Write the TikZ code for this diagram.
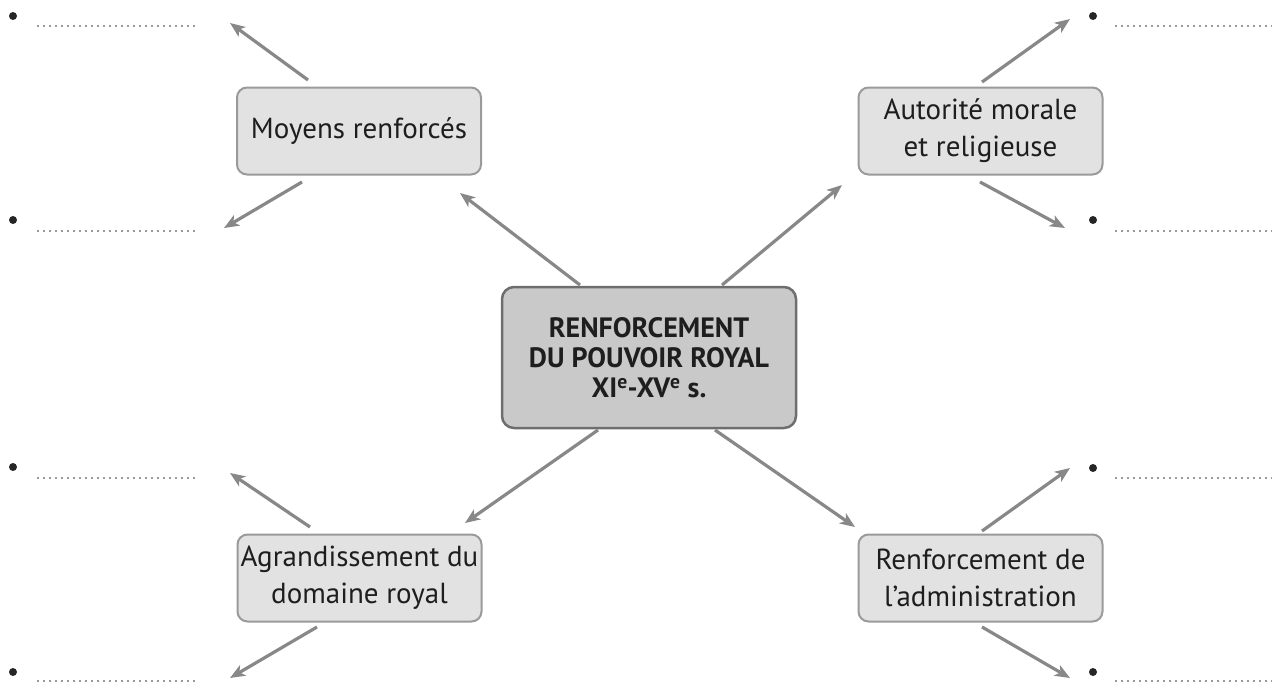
\documentclass[tikz,border=0pt]{standalone}
\usepackage{fontspec}
\setmainfont{PT Sans}
\usetikzlibrary{arrows.meta}
\definecolor{boxfill}{HTML}{E2E2E2}
\definecolor{boxline}{HTML}{9A9A9A}
\definecolor{mainfill}{HTML}{C9C9C9}
\definecolor{mainline}{HTML}{6E6E6E}
\definecolor{arrowgray}{HTML}{888888}
\definecolor{txt}{HTML}{1E1E1E}
\definecolor{dotgray}{HTML}{999999}
\begin{document}
\begin{tikzpicture}[x=1pt,y=-1pt,
  sub/.style={draw=boxline, fill=boxfill, line width=2pt, rounded corners=10pt,
    minimum width=244pt, minimum height=87pt, align=center,
    font=\fontsize{29}{37}\selectfont, text=txt, inner sep=0pt},
  mainbox/.style={draw=mainline, fill=mainfill, line width=2.5pt, rounded corners=12pt,
    minimum width=294pt, minimum height=141pt, align=center,
    font=\bfseries\fontsize{28}{30}\selectfont, text=txt, inner sep=0pt},
  arr/.style={draw=arrowgray, line width=3.2pt, -{Stealth[length=15pt,width=12pt,inset=4pt]}},
  dots/.style={draw=dotgray, line width=2pt, dash pattern=on 2pt off 4pt},
  bul/.style={circle, fill=black!85, inner sep=0pt, minimum size=8pt}]
\useasboundingbox (0,0) rectangle (1276,683);

% boxes
\node[mainbox] (c) at (649,357.5) {RENFORCEMENT\\DU POUVOIR ROYAL\\XI\textsuperscript{e}-XV\textsuperscript{e} s.};
\node[sub] (moy) at (359,131) {Moyens renforcés};
\node[sub] (aut) at (980.5,131) {Autorité morale\\et religieuse};
\node[sub] (agr) at (359.5,578) {Agrandissement du\\domaine royal};
\node[sub] (adm) at (980.5,578) {Renforcement de\\l’administration};

% bullets
\node[bul] (bl1) at (13,16) {};
\node[bul] (bl2) at (13,220) {};
\node[bul] (bl3) at (13,467) {};
\node[bul] (bl4) at (13,672) {};
\node[bul] (br1) at (1093,16) {};
\node[bul] (br2) at (1093,220) {};
\node[bul] (br3) at (1093,468) {};
\node[bul] (br4) at (1093,672) {};

% dotted answer lines
\draw[dots] (37,26) -- (195,26);
\draw[dots] (37,231) -- (195,231);
\draw[dots] (37,478) -- (195,478);
\draw[dots] (37,681) -- (195,681);
\draw[dots] (1115,26) -- (1272,26);
\draw[dots] (1115,231) -- (1272,231);
\draw[dots] (1115,478) -- (1272,478);
\draw[dots] (1115,681) -- (1272,681);

% arrow end coordinates
\coordinate (cm0) at (580,285);  \coordinate (cm1) at (460,193);
\coordinate (ca0) at (722,285);  \coordinate (ca1) at (842,185);
\coordinate (cg0) at (598,430);  \coordinate (cg1) at (465,523);
\coordinate (cd0) at (715,430);  \coordinate (cd1) at (855,527);

\coordinate (m10) at (308,80);   \coordinate (m11) at (230,23);
\coordinate (m20) at (302,182);  \coordinate (m21) at (224,228);
\coordinate (a10) at (982,82);   \coordinate (a11) at (1070,19);
\coordinate (a20) at (980,182);  \coordinate (a21) at (1065,228);
\coordinate (g10) at (310,527);  \coordinate (g11) at (230,473);
\coordinate (g20) at (317,627);  \coordinate (g21) at (230,678);
\coordinate (d10) at (982,531);  \coordinate (d11) at (1070,468);
\coordinate (d20) at (982,627);  \coordinate (d21) at (1070,678);

\draw[arr] (cm0) -- (cm1);
\draw[arr] (ca0) -- (ca1);
\draw[arr] (cg0) -- (cg1);
\draw[arr] (cd0) -- (cd1);
\draw[arr] (m10) -- (m11);
\draw[arr] (m20) -- (m21);
\draw[arr] (a10) -- (a11);
\draw[arr] (a20) -- (a21);
\draw[arr] (g10) -- (g11);
\draw[arr] (g20) -- (g21);
\draw[arr] (d10) -- (d11);
\draw[arr] (d20) -- (d21);
\end{tikzpicture}
\end{document}
